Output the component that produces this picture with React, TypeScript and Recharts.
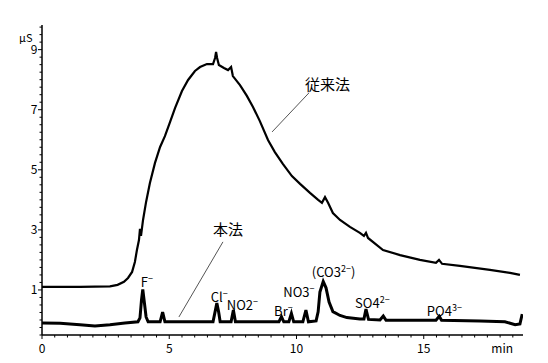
import React from 'react';
import { LineChart, Line, XAxis, YAxis, ReferenceDot, ReferenceLine } from 'recharts';

// ---- Conventional method (従来法) trace: time [min], conductivity [μS]
const convTime = [0, 1.49, 2.67, 2.97, 3.22, 3.38, 3.54, 3.65, 3.73, 3.81, 3.85, 3.89, 3.97, 4.09, 4.24, 4.44, 4.64, 4.83, 5.03, 5.23, 5.5, 5.74, 6.01, 6.21, 6.48, 6.72, 6.8, 6.84, 6.88, 6.95, 7.15, 7.31, 7.43, 7.5, 7.78, 8.05, 8.29, 8.56, 8.88, 9.15, 9.47, 9.82, 10.14, 10.53, 10.85, 11.0, 11.12, 11.24, 11.43, 11.71, 12.1, 12.49, 12.65, 12.73, 12.81, 13.4, 14.07, 14.85, 15.48, 15.6, 15.72, 16.42, 17.6, 18.39, 18.78];
const convSignal = [1.1, 1.1, 1.12, 1.17, 1.27, 1.4, 1.6, 1.93, 2.33, 2.66, 3.03, 2.8, 3.33, 3.93, 4.56, 5.23, 5.76, 6.12, 6.59, 7.06, 7.62, 7.99, 8.29, 8.42, 8.52, 8.52, 8.72, 8.92, 8.72, 8.49, 8.39, 8.32, 8.42, 8.12, 7.82, 7.46, 7.09, 6.62, 5.99, 5.59, 5.19, 4.79, 4.53, 4.23, 4.0, 3.9, 4.09, 3.9, 3.56, 3.33, 3.1, 2.9, 2.8, 2.9, 2.73, 2.33, 2.16, 2.0, 1.9, 2.0, 1.87, 1.8, 1.67, 1.57, 1.5];

// ---- This method (本法) trace
const newTime = [0, 0.71, 1.49, 2.08, 2.67, 3.26, 3.77, 3.85, 3.91, 3.96, 4.01, 4.09, 4.17, 4.64, 4.74, 4.83, 6.72, 6.8, 6.87, 6.94, 7.0, 7.43, 7.52, 7.6, 9.31, 9.41, 9.5, 9.7, 9.8, 9.89, 10.25, 10.37, 10.47, 10.77, 10.85, 10.92, 11.05, 11.16, 11.28, 11.43, 11.71, 11.98, 12.49, 12.65, 12.73, 12.83, 13.28, 13.41, 13.52, 15.48, 15.61, 15.7, 17.21, 18.19, 18.59, 18.78, 18.87];
const newSignal = [-0.1, -0.11, -0.16, -0.2, -0.16, -0.1, -0.06, 0.07, 0.67, 1.02, 0.67, 0.1, -0.06, -0.06, 0.26, -0.06, -0.06, 0.27, 0.56, 0.27, -0.06, -0.06, 0.33, -0.06, -0.06, 0.11, -0.06, -0.06, 0.22, -0.06, -0.06, 0.33, -0.06, -0.03, 0.27, 0.93, 1.28, 1.07, 0.6, 0.28, 0.15, 0.08, 0.03, 0.03, 0.36, 0.02, 0.0, 0.13, -0.01, -0.01, 0.12, -0.01, -0.03, -0.06, -0.16, -0.13, 0.2];

// ---- Axis ticks
const xTickLabels = [0, 5, 10, 15];
const yTickLabels = [1, 3, 5, 7, 9];
const xDomain: [number, number] = [0, 18.9];
const yDomain: [number, number] = [-0.5, 9.82];
const xUnit = 'min';
const yUnit = 'μS';

// ---- Peak labels (ion, charge, closing text, anchor time, anchor signal)
const peakIons = ['F', 'Cl', 'NO2', 'Br', 'NO3', '(CO3', 'SO4', 'PO4'];
const peakCharges = ['−', '−', '−', '−', '−', '2−', '2−', '3−'];
const peakClosing = ['', '', '', '', '', ')', '', ''];
const peakLabelT = [3.88, 6.63, 7.26, 9.12, 9.48, 10.6, 12.3, 15.12];
const peakLabelV = [1.1, 0.6, 0.33, 0.14, 0.76, 1.43, 0.4, 0.12];

// ---- Method labels and pointer lines
const methodNames = ['従来法', '本法'];
const methodLabelT = [10.33, 6.72];
const methodLabelV = [7.66, 2.83];
const pointerFrom = [{ t: 10.49, v: 7.56 }, { t: 7.11, v: 2.6 }];
const pointerTo = [{ t: 9.04, v: 6.26 }, { t: 5.38, v: 0.1 }];

const convData = convTime.map((t, i) => ({ t, v: convSignal[i] }));
const newData = newTime.map((t, i) => ({ t, v: newSignal[i] }));

const xTicks: number[] = [];
for (let i = 0; i * 0.5 <= 18.5; i++) xTicks.push(i * 0.5);
const yTicks: number[] = [];
for (let i = 0; i * 0.25 - 0.5 <= 9.75 + 1e-9; i++) yTicks.push(Math.round((i * 0.25 - 0.5) * 100) / 100);

const FONT = "'Noto Sans CJK JP', 'Noto Sans', sans-serif";

const XTick = (props: any) => {
  const { x, y, payload } = props;
  const major = xTickLabels.includes(payload.value);
  return (
    <g>
      <line x1={x} y1={y} x2={x} y2={y + (major ? 4 : 2.5)} stroke="#000" strokeWidth={1} />
      {major && (
        <text x={x} y={y + 18} textAnchor="middle" fontSize={12} fontFamily={FONT} fill="#000">
          {payload.value}
        </text>
      )}
    </g>
  );
};

const YTick = (props: any) => {
  const { x, y, payload } = props;
  const major = yTickLabels.includes(payload.value);
  return (
    <g>
      <line x1={x - (major ? 4 : 2.5)} y1={y} x2={x} y2={y} stroke="#000" strokeWidth={1} />
      {major && (
        <text x={x - 4.5} y={y + 4.5} textAnchor="end" fontSize={12} fontFamily={FONT} fill="#000">
          {payload.value}
        </text>
      )}
    </g>
  );
};

const makePeakShape = (i: number) => (props: any) => {
  const { cx, cy } = props;
  return (
    <text x={cx} y={cy} fontSize={13} fontFamily={FONT} fill="#000">
      <tspan>{peakIons[i]}</tspan>
      <tspan dy={-5} fontSize={9}>{peakCharges[i]}</tspan>
      {peakClosing[i] && <tspan dy={5}>{peakClosing[i]}</tspan>}
    </text>
  );
};

const makeMethodShape = (i: number) => (props: any) => {
  const { cx, cy } = props;
  return (
    <text x={cx} y={cy} fontSize={15} fontFamily={FONT} fill="#000">
      {methodNames[i]}
    </text>
  );
};

export default function App() {
  return (
    <div style={{ position: 'absolute', left: 0, top: 0, background: '#fff' }}>
      <LineChart width={548} height={363} margin={{ top: 25, right: 25, left: 0, bottom: 0 }}>
        <XAxis
          type="number"
          dataKey="t"
          domain={xDomain}
          allowDataOverflow
          ticks={xTicks}
          interval={0}
          tickSize={0}
          tickMargin={0}
          tickLine={false}
          tick={<XTick />}
          height={28}
          axisLine={{ stroke: '#000', strokeWidth: 1.5 }}
          label={{
            content: (p: any) => {
              const vb = p.viewBox;
              return (
                <text x={vb.x + vb.width - 10} y={vb.y + 17.5} textAnchor="end" fontSize={12} fontFamily={FONT} fill="#000">
                  {xUnit}
                </text>
              );
            },
          }}
        />
        <YAxis
          type="number"
          domain={yDomain}
          allowDataOverflow
          ticks={yTicks}
          interval={0}
          tickSize={0}
          tickMargin={0}
          tickLine={false}
          tick={<YTick />}
          width={42}
          axisLine={{ stroke: '#000', strokeWidth: 1.5 }}
          label={{
            content: (p: any) => {
              const vb = p.viewBox;
              return (
                <text x={vb.x + 19} y={vb.y + 16.5} fontSize={11} fontFamily={FONT} fill="#000">
                  {yUnit}
                </text>
              );
            },
          }}
        />
        <YAxis
          yAxisId="r"
          orientation="right"
          width={0}
          tick={false}
          tickLine={false}
          axisLine={{ stroke: '#000', strokeWidth: 1.8 }}
        />
        <Line data={convData} dataKey="v" type="linear" stroke="#000" strokeWidth={2.2} dot={false} isAnimationActive={false} />
        <Line data={newData} dataKey="v" type="linear" stroke="#000" strokeWidth={3} dot={false} isAnimationActive={false} />
        {pointerFrom.map((f, i) => (
          <ReferenceLine
            key={'pl' + i}
            segment={[{ x: f.t, y: f.v }, { x: pointerTo[i].t, y: pointerTo[i].v }]}
            stroke="#555"
            strokeWidth={1}
          />
        ))}
        {peakIons.map((_, i) => (
          <ReferenceDot key={'pk' + i} x={peakLabelT[i]} y={peakLabelV[i]} r={0} shape={makePeakShape(i)} />
        ))}
        {methodNames.map((_, i) => (
          <ReferenceDot key={'md' + i} x={methodLabelT[i]} y={methodLabelV[i]} r={0} shape={makeMethodShape(i)} />
        ))}
      </LineChart>
    </div>
  );
}
